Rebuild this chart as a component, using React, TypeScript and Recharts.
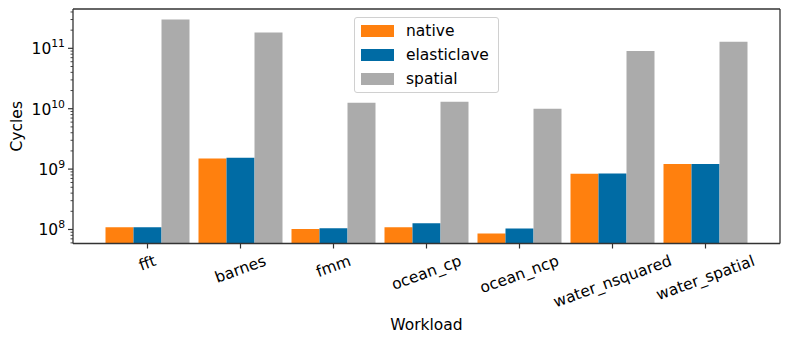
import { BarChart, Bar, Line, XAxis, YAxis, Legend } from 'recharts';

const workloads = ['fft', 'barnes', 'fmm', 'ocean_cp', 'ocean_ncp', 'water_nsquared', 'water_spatial'];
const native = [1.09e8, 1.5e9, 1.02e8, 1.09e8, 8.6e7, 8.36e8, 1.21e9];
const elasticlave = [1.09e8, 1.54e9, 1.05e8, 1.27e8, 1.04e8, 8.45e8, 1.22e9];
const spatial = [2.99e11, 1.82e11, 1.26e10, 1.31e10, 1.0e10, 9.06e10, 1.29e11];

const majorTicks = [1e8, 1e9, 1e10, 1e11];
const Y_MIN = 5.86e7;
const Y_MAX = 4.48e11;

const series = [
  { key: 'native', color: '#FF800E' },
  { key: 'elasticlave', color: '#006BA4' },
  { key: 'spatial', color: '#ABABAB' },
];

const FONT = '"DejaVu Sans", "Liberation Sans", sans-serif';
const FS = 15.5;
const AXIS = '#333';

const data = workloads.map((name, i) => ({
  name,
  native: native[i],
  elasticlave: elasticlave[i],
  spatial: spatial[i],
}));

// major decades plus the 2..9 minor ticks inside the visible range
const allTicks: number[] = [];
for (let e = 7; e <= 11; e++) {
  for (let m = 1; m <= 9; m++) {
    const v = m * Math.pow(10, e);
    if (v >= Y_MIN && v <= Y_MAX) allTicks.push(v);
  }
}

let ctx: CanvasRenderingContext2D | null = null;
function textWidth(s: string) {
  if (!ctx) ctx = document.createElement('canvas').getContext('2d');
  if (!ctx) return s.length * FS * 0.6;
  ctx.font = `${FS}px "DejaVu Sans"`;
  return ctx.measureText(s).width;
}

function YTick(props: any) {
  const { x, y, payload } = props;
  const v = payload.value as number;
  const exp = Math.round(Math.log10(v));
  const major = majorTicks.includes(v);
  return (
    <g>
      <line x1={x - (major ? 5 : 2.5)} x2={x} y1={y} y2={y} stroke={AXIS} strokeWidth={major ? 1.2 : 0.9} />
      {major && (
        <text x={x - 8} y={y + 6} textAnchor="end" fontFamily={FONT} fontSize={FS} fill="#000">
          10
          <tspan dy={-7} fontSize={10.8}>{exp}</tspan>
        </text>
      )}
    </g>
  );
}

function XTick(props: any) {
  const { x, y, payload } = props;
  const th = (20 * Math.PI) / 180;
  const w = textWidth(payload.value);
  const h = w * Math.sin(th) + FS * Math.cos(th);
  const cy = y + h / 2;
  return (
    <text
      x={x}
      y={cy}
      textAnchor="middle"
      dominantBaseline="central"
      transform={`rotate(-20 ${x} ${cy})`}
      fontFamily={FONT}
      fontSize={FS}
      fill="#000"
    >
      {payload.value}
    </text>
  );
}

function LegendBox() {
  return (
    <div
      style={{
        width: 145,
        height: 76,
        boxSizing: 'border-box',
        border: '1px solid #d0d0d0',
        borderRadius: 3,
        background: 'rgba(255,255,255,0.8)',
        position: 'relative',
        fontFamily: FONT,
        fontSize: FS,
      }}
    >
      {series.map((s, i) => (
        <div key={s.key} style={{ position: 'absolute', left: 6, top: 3 + i * 24, height: 20, display: 'flex', alignItems: 'center' }}>
          <span style={{ width: 33, height: 11.5, background: s.color, display: 'inline-block' }} />
          <span style={{ marginLeft: 12, color: '#000', lineHeight: '20px' }}>{s.key}</span>
        </div>
      ))}
    </div>
  );
}

export default function App() {
  return (
    <div style={{ position: 'absolute', left: 0, top: 0 }}>
      <BarChart
        width={789}
        height={342}
        data={data}
        margin={{ top: 8, right: 8, bottom: 0, left: 0 }}
        barCategoryGap={4.5}
        barGap={0}
      >
        <XAxis
          dataKey="name"
          height={98.5}
          padding={{ left: 28, right: 28 }}
          interval={0}
          tickSize={5}
          tickMargin={4.5}
          tickLine={{ stroke: AXIS, strokeWidth: 1.2 }}
          axisLine={{ stroke: AXIS, strokeWidth: 1.3 }}
          tick={<XTick />}
          label={{
            content: (p: any) => (
              <text
                x={p.viewBox.x + p.viewBox.width / 2}
                y={p.viewBox.y + 81.5}
                textAnchor="middle"
                dominantBaseline="central"
                fontFamily={FONT}
                fontSize={FS}
                fill="#000"
              >
                Workload
              </text>
            ),
          }}
        />
        <XAxis xAxisId="top" dataKey="name" orientation="top" height={1} tick={false} tickLine={false} axisLine={{ stroke: AXIS, strokeWidth: 1.3 }} />
        <YAxis
          type="number"
          scale="log"
          domain={[Y_MIN, Y_MAX]}
          allowDataOverflow
          ticks={allTicks}
          interval={0}
          width={73}
          tickSize={0}
          tickMargin={0}
          tickLine={false}
          axisLine={{ stroke: AXIS, strokeWidth: 1.3 }}
          tick={<YTick />}
          label={{
            content: (p: any) => (
              <text
                x={16.5}
                y={p.viewBox.y + p.viewBox.height / 2}
                textAnchor="middle"
                dominantBaseline="central"
                transform={`rotate(-90 16.5 ${p.viewBox.y + p.viewBox.height / 2})`}
                fontFamily={FONT}
                fontSize={FS}
                fill="#000"
              >
                Cycles
              </text>
            ),
          }}
        />
        <YAxis yAxisId="right" orientation="right" type="number" domain={[0, 1]} width={1} tick={false} tickLine={false} axisLine={{ stroke: AXIS, strokeWidth: 1.3 }} />
        {series.map((s) => (
          <Bar key={s.key} dataKey={s.key} fill={s.color} isAnimationActive={false} />
        ))}
        {/* empty series so the top/right frame axes get drawn */}
        <Line xAxisId="top" yAxisId="right" dataKey="frame" stroke="none" dot={false} legendType="none" isAnimationActive={false} />
        <Legend
          layout="vertical"
          align="center"
          verticalAlign="middle"
          wrapperStyle={{ left: 354, top: 17, width: 145 }}
          content={() => <LegendBox />}
        />
      </BarChart>
    </div>
  );
}
